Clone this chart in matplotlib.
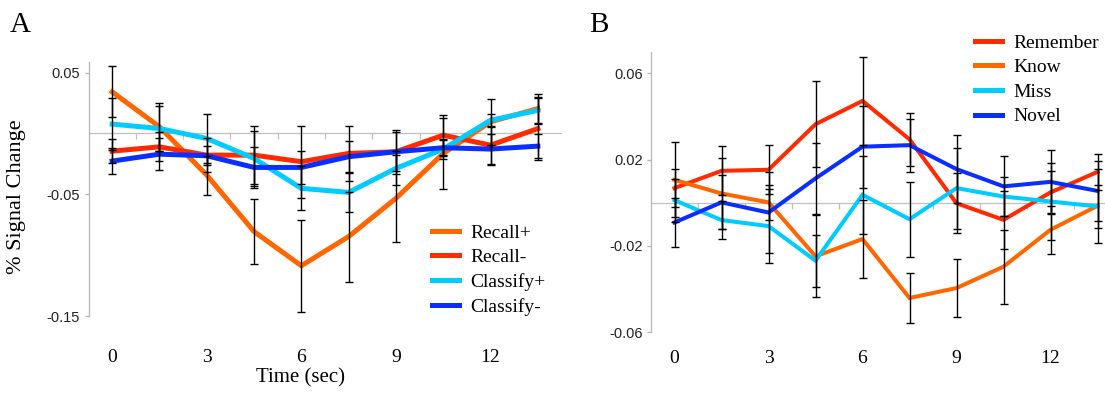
import numpy as np
import matplotlib
matplotlib.use("Agg")
import matplotlib.pyplot as plt

# time points (TR = 1.5 s), labelled every 3 s
n_points = 10
tick_idx = [0, 2, 4, 6, 8]
tick_labels = ["0", "3", "6", "9", "12"]

# Panel A
a_names = ["Recall+", "Recall-", "Classify+", "Classify-"]
recall_pos = [0.0342, 0.0055, -0.0342, -0.0806, -0.1087, -0.0847, -0.0533, -0.0164, 0.0096, 0.0205]
recall_neg = [-0.0145, -0.011, -0.0178, -0.0178, -0.0232, -0.0164, -0.015, -0.0014, -0.0096, 0.004]
classify_pos = [0.0077, 0.0041, -0.0041, -0.0205, -0.0451, -0.0484, -0.0287, -0.0128, 0.0109, 0.019]
classify_neg = [-0.0227, -0.017, -0.0183, -0.0279, -0.0279, -0.0191, -0.015, -0.0117, -0.0128, -0.0104]
recall_pos_err = [0.021, 0.0197, 0.016, 0.027, 0.0377, 0.037, 0.036, 0.029, 0.019, 0.0123]
recall_neg_err = [0.010, 0.012, 0.014, 0.024, 0.0295, 0.0224, 0.018, 0.017, 0.016, 0.026]
classify_pos_err = [0.0216, 0.0186, 0.020, 0.0224, 0.018, 0.0164, 0.014, 0.008, 0.0055, 0.010]
classify_neg_err = [0.011, 0.013, 0.008, 0.0167, 0.0137, 0.013, 0.016, 0.006, 0.012, 0.010]

# Panel B
b_names = ["Remember", "Know", "Miss", "Novel"]
remember = [0.0068, 0.0148, 0.0153, 0.0364, 0.0472, 0.0294, -0.0002, -0.0079, 0.0048, 0.0143]
know = [0.0106, 0.0043, 0.0002, -0.0248, -0.0168, -0.0441, -0.0395, -0.0296, -0.0125, -0.0014]
miss = [0.0012, -0.008, -0.0108, -0.0268, 0.0037, -0.0076, 0.0068, 0.0029, 0.0006, -0.0017]
novel = [-0.0091, 0.0002, -0.0045, 0.0113, 0.026, 0.0267, 0.0156, 0.0076, 0.0097, 0.0055]
remember_err = [0.0088, 0.0113, 0.0114, 0.020, 0.0205, 0.0123, 0.014, 0.0134, 0.010, 0.0084]
know_err = [0.0174, 0.0163, 0.008, 0.019, 0.018, 0.0117, 0.0134, 0.0171, 0.011, 0.017]
miss_err = [0.010, 0.009, 0.017, 0.012, 0.018, 0.0174, 0.0188, 0.009, 0.018, 0.010]
novel_err = [0.0115, 0.0125, 0.0188, 0.0165, 0.019, 0.0123, 0.0157, 0.0139, 0.0146, 0.014]

orange = "#FF6600"
red = "#FF2A00"
cyan = "#00CCFF"
blue = "#0A2EFF"

serif = "Liberation Serif"
sans = "Liberation Sans"

fig = plt.figure(figsize=(11.05, 3.98), dpi=100)
W, H = 1105.0, 398.0

def make_axes(left, right, top, bottom):
    return fig.add_axes([left / W, 1 - bottom / H, (right - left) / W, (bottom - top) / H])

def style_axes(ax, ylim, yticks, ylabels, pad):
    x = np.arange(n_points)
    ax.set_xlim(-0.5, n_points - 0.5)
    ax.set_ylim(*ylim)
    for s in ["top", "right", "bottom"]:
        ax.spines[s].set_visible(False)
    ax.spines["left"].set_color("#b5b5b5")
    ax.spines["left"].set_linewidth(0.9)
    ax.axhline(0, color="#c0c0c0", lw=0.9, zorder=1)
    # category tick marks on the zero line
    ax.plot(x[:-1] + 0.5, np.zeros(n_points - 1), ls="none", marker=3, ms=4,
            mew=0.9, color="#c0c0c0", zorder=1)
    ax.set_yticks(yticks)
    ax.set_yticklabels(ylabels, fontfamily=sans, fontsize=10.5, color="#222222")
    ax.tick_params(axis="y", length=3, width=0.9, color="#b5b5b5", pad=3)
    ax.set_xticks(tick_idx)
    ax.set_xticklabels(tick_labels, fontfamily=serif, fontsize=14)
    ax.tick_params(axis="x", length=0, pad=pad)

def draw(ax, series, errs, colors, lw):
    x = np.arange(n_points)
    for y, c in zip(series, colors):
        ax.plot(x, y, color=c, lw=lw, solid_joinstyle="miter", zorder=2)
    for y, e in zip(series, errs):
        ax.errorbar(x, y, yerr=e, fmt="none", ecolor="black", elinewidth=1.0,
                    capsize=3, capthick=1.0, zorder=3)

legend_kw = dict(bbox_transform=fig.transFigure, frameon=False, borderpad=0, borderaxespad=0,
                 handlelength=1.4, handletextpad=0.6, labelspacing=0.36,
                 prop={"family": serif, "size": 14})

# ---- Panel A
axA = make_axes(88.5, 561.5, 61.7, 316)
style_axes(axA, (-0.15, 0.059), [0.05, -0.05, -0.15], ["0.05", "-0.05", "-0.15"], 24)
a_series = [recall_pos, recall_neg, classify_pos, classify_neg]
a_errs = [recall_pos_err, recall_neg_err, classify_pos_err, classify_neg_err]
a_colors = [orange, red, cyan, blue]
draw(axA, a_series, a_errs, a_colors, 3.6)
handlesA = [plt.Line2D([], [], color=c, lw=3.6) for c in a_colors]
axA.legend(handlesA, a_names, loc="upper left", bbox_to_anchor=(431.7 / W, 1 - 224 / H), **legend_kw)
axA.set_xlabel("Time (sec)", fontfamily=serif, fontsize=15)
axA.xaxis.set_label_coords(0.448, -0.205)
fig.text(17 / W, 1 - 197 / H, "% Signal Change", fontfamily=serif, fontsize=16,
         rotation=90, ha="center", va="center")

# ---- Panel B
axB = make_axes(651, 1121, 51.7, 332.3)
style_axes(axB, (-0.06, 0.07), [0.06, 0.02, -0.02, -0.06], ["0.06", "0.02", "-0.02", "-0.06"], 12.5)
b_series = [remember, know, miss, novel]
b_errs = [remember_err, know_err, miss_err, novel_err]
b_colors = [red, orange, cyan, blue]
draw(axB, b_series, b_errs, b_colors, 2.9)
handlesB = [plt.Line2D([], [], color=c, lw=3.6) for c in b_colors]
axB.legend(handlesB, b_names, loc="upper left", bbox_to_anchor=(975 / W, 1 - 34 / H), **legend_kw)

fig.text(10 / W, 1 - 32 / H, "A", fontfamily=serif, fontsize=21, va="baseline", ha="left")
fig.text(589 / W, 1 - 32 / H, "B", fontfamily=serif, fontsize=21, va="baseline", ha="left")

fig.savefig("out.png", dpi=100)
